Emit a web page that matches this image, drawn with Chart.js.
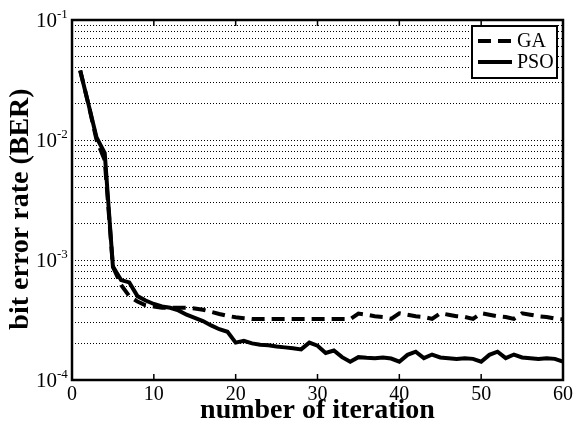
<!DOCTYPE html>
<html>
<head>
<meta charset="utf-8">
<script src="https://cdn.jsdelivr.net/npm/chart.js@4/dist/chart.umd.min.js"></script>
<style>
  html, body { margin: 0; padding: 0; background: #fff; }
  #wrap { width: 576px; height: 430px; }
</style>
</head>
<body>
<div id="wrap"><canvas id="berChart" width="576" height="430"></canvas></div>
<script>
// iteration number (x)
const iterations = [
  1, 2, 3, 4, 5, 6, 7, 8, 9, 10,
  11, 12, 13, 14, 15, 16, 17, 18, 19, 20,
  21, 22, 23, 24, 25, 26, 27, 28, 29, 30,
  31, 32, 33, 34, 35, 36, 37, 38, 39, 40,
  41, 42, 43, 44, 45, 46, 47, 48, 49, 50,
  51, 52, 53, 54, 55, 56, 57, 58, 59, 60
];

// GA bit error rate (dashed)
const gaBer = [
  0.038, 0.020, 0.0100, 0.0068, 0.00088, 0.00062, 0.00050, 0.00045, 0.00042, 0.00041,
  0.00040, 0.00040, 0.00040, 0.00040, 0.000395, 0.000385, 0.00037, 0.000355, 0.000342, 0.000333,
  0.000327, 0.000322, 0.000322, 0.000322, 0.000322, 0.000322, 0.000322, 0.000322, 0.000322, 0.000322,
  0.000322, 0.000322, 0.000322, 0.000322, 0.000358, 0.00035, 0.00034, 0.000335, 0.000323, 0.00036,
  0.00035, 0.00034, 0.000335, 0.000323, 0.00036, 0.00035, 0.00034, 0.000335, 0.000323, 0.00036,
  0.00035, 0.00034, 0.000335, 0.000323, 0.00036, 0.00035, 0.00034, 0.000335, 0.000325, 0.00032
];

// PSO bit error rate (solid)
const psoBer = [
  0.038, 0.020, 0.0105, 0.0078, 0.00088, 0.00068, 0.00065, 0.00050, 0.00046, 0.00043,
  0.00041, 0.00040, 0.00038, 0.00035, 0.00033, 0.00031, 0.000285, 0.000265, 0.000252, 0.000205,
  0.000212, 0.000202, 0.000197, 0.000195, 0.00019, 0.000187, 0.000184, 0.00018, 0.000205, 0.000193,
  0.000168, 0.000176, 0.000155, 0.000142, 0.000155, 0.000153, 0.000152, 0.000154, 0.000151, 0.000142,
  0.000162, 0.000172, 0.000152, 0.000163, 0.000154, 0.000152, 0.00015, 0.000152, 0.00015, 0.000142,
  0.000162, 0.000172, 0.000152, 0.000163, 0.000154, 0.000152, 0.00015, 0.000152, 0.00015, 0.000142
];

// axis ticks
const xTicks = [0, 10, 20, 30, 40, 50, 60];
const yDecades = [1e-4, 1e-3, 1e-2, 1e-1];
const yExponents = ["-4", "-3", "-2", "-1"];
const mantissas = [1, 2, 3, 4, 5, 6, 7, 8, 9];
const yTitle = "bit error rate (BER)";

const serif = "'Liberation Serif', 'Times New Roman', serif";

// dotted grid at every 1..9 x 10^k
let yGrid = [];
for (let d = 0; d < yDecades.length - 1; d++) {
  for (let m of mantissas) yGrid.push(yDecades[d] * m);
}
yGrid.push(yDecades[yDecades.length - 1]);

// frame, inward ticks, y labels with exponents, y title and the legend box
const decorPlugin = {
  id: "decor",
  afterDraw(chart) {
    const ctx = chart.ctx;
    const area = chart.chartArea;
    const xs = chart.scales.x;
    const ys = chart.scales.y;
    ctx.save();

    // inward tick marks
    ctx.strokeStyle = "#000";
    ctx.lineWidth = 1.5;
    ctx.setLineDash([]);
    xTicks.forEach(function (t) {
      const px = xs.getPixelForValue(t);
      ctx.beginPath();
      ctx.moveTo(px, area.bottom);
      ctx.lineTo(px, area.bottom - 6);
      ctx.moveTo(px, area.top);
      ctx.lineTo(px, area.top + 6);
      ctx.stroke();
    });

    // box around plot
    ctx.lineWidth = 2.5;
    ctx.strokeRect(area.left, area.top, area.right - area.left, area.bottom - area.top);

    // y labels 10^k
    ctx.fillStyle = "#000";
    yDecades.forEach(function (v, i) {
      const py = ys.getPixelForValue(v);
      ctx.font = "21px " + serif;
      ctx.textAlign = "right";
      ctx.textBaseline = "alphabetic";
      ctx.fillText("10", area.left - 15, py + 7);
      ctx.font = "13px " + serif;
      ctx.textAlign = "left";
      ctx.fillText(yExponents[i], area.left - 15, py - 2);
    });

    // y title
    ctx.save();
    ctx.translate(21, (area.top + area.bottom) / 2 + 9);
    ctx.rotate(-Math.PI / 2);
    ctx.font = "bold 28px " + serif;
    ctx.textAlign = "center";
    ctx.textBaseline = "middle";
    ctx.fillText(yTitle, 0, 0);
    ctx.restore();

    // legend
    const bx = area.right - 91, by = area.top + 6, bw = 85, bh = 52;
    ctx.fillStyle = "#fff";
    ctx.fillRect(bx, by, bw, bh);
    ctx.lineWidth = 2;
    ctx.strokeStyle = "#000";
    ctx.strokeRect(bx, by, bw, bh);
    chart.data.datasets.forEach(function (ds, i) {
      const ly = by + 15 + i * 21;
      ctx.beginPath();
      ctx.lineWidth = ds.borderWidth;
      ctx.setLineDash(ds.borderDash || []);
      ctx.moveTo(bx + 6, ly);
      ctx.lineTo(bx + 40, ly);
      ctx.stroke();
      ctx.setLineDash([]);
      ctx.fillStyle = "#000";
      ctx.font = "20px " + serif;
      ctx.textAlign = "left";
      ctx.textBaseline = "middle";
      ctx.fillText(ds.label, bx + 45, ly + 1);
    });
    ctx.restore();
  }
};

const ctx = document.getElementById("berChart").getContext("2d");
new Chart(ctx, {
  type: "line",
  data: {
    labels: iterations,
    datasets: [
      {
        label: "GA",
        data: gaBer,
        borderColor: "#000",
        borderWidth: 4,
        borderDash: [13, 7],
        pointRadius: 0,
        fill: false,
        tension: 0
      },
      {
        label: "PSO",
        data: psoBer,
        borderColor: "#000",
        borderWidth: 4,
        pointRadius: 0,
        fill: false,
        tension: 0
      }
    ]
  },
  options: {
    responsive: false,
    animation: false,
    layout: { padding: { left: 0, right: 12, top: 20, bottom: 0 } },
    plugins: {
      legend: { display: false },
      tooltip: { enabled: false }
    },
    scales: {
      x: {
        type: "linear",
        min: 0,
        max: 60,
        afterBuildTicks: function (scale) {
          scale.ticks = xTicks.map(function (v) { return { value: v }; });
        },
        afterFit: function (scale) { scale.height = 50; },
        grid: { display: false, drawTicks: false },
        border: { display: false },
        ticks: {
          color: "#000",
          padding: 3,
          maxRotation: 0,
          font: { family: serif, size: 20 }
        },
        title: {
          display: true,
          text: "number of iteration",
          color: "#000",
          font: { family: serif, size: 28, weight: "bold" },
          padding: { top: 0, bottom: 2 }
        }
      },
      y: {
        type: "logarithmic",
        min: 1e-4,
        max: 1e-1,
        afterBuildTicks: function (scale) {
          scale.ticks = yGrid.map(function (v) { return { value: v }; });
        },
        afterFit: function (scale) { scale.width = 72; },
        grid: { color: "#000", lineWidth: 1, drawTicks: false },
        border: { display: false, dash: [1, 2] },
        ticks: { display: false }
      }
    }
  },
  plugins: [decorPlugin]
});
</script>
</body>
</html>
